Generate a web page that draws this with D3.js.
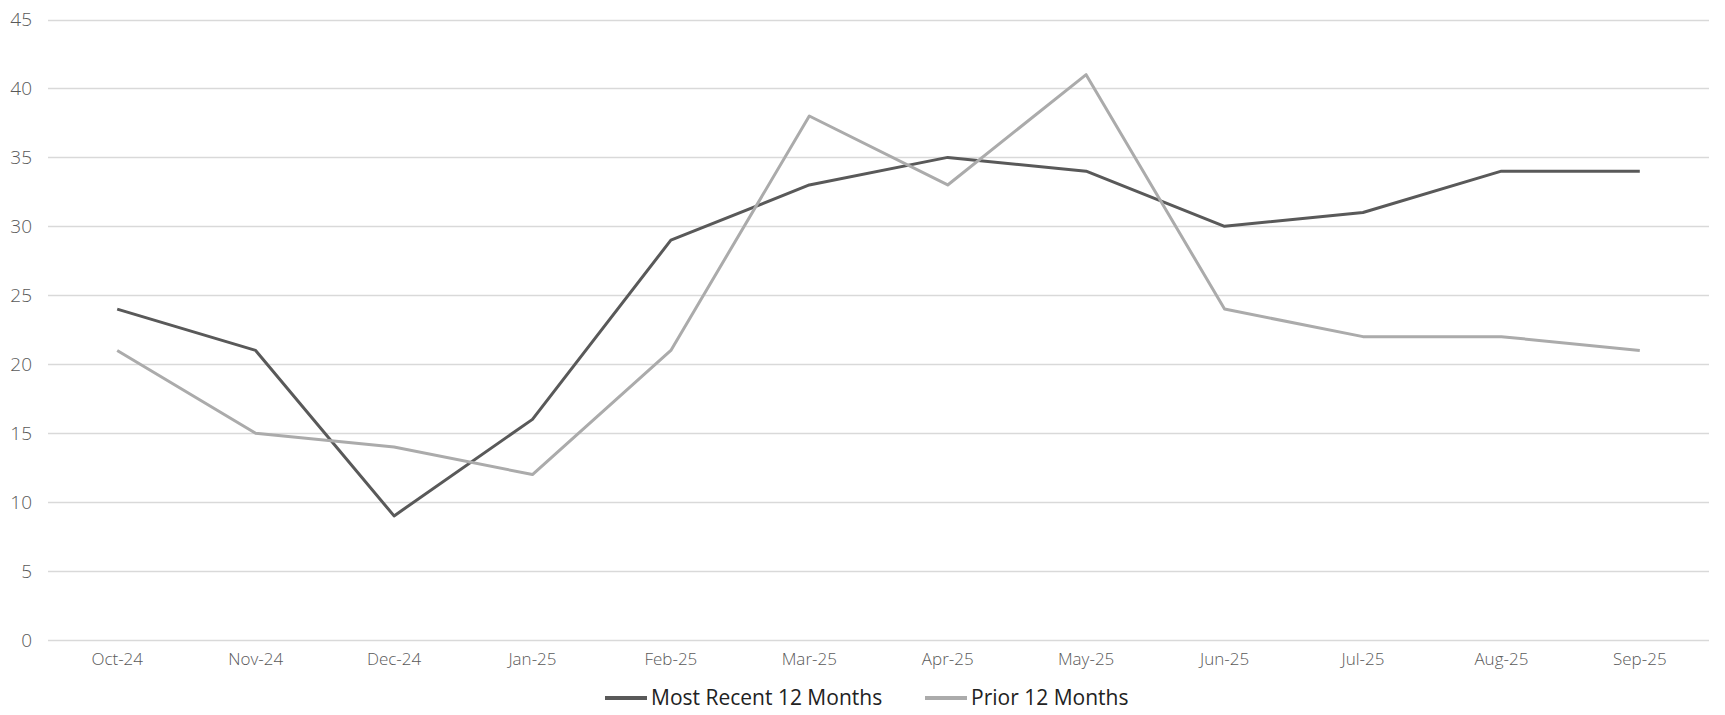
<!DOCTYPE html>
<html><head><meta charset="utf-8">
<script src="https://cdn.jsdelivr.net/npm/d3@7"></script>
<style>body{margin:0;background:#fff;} svg{display:block;}</style>
</head><body>
<svg id="c" width="1725" height="715"></svg>
<script>
const categories = ["Oct-24","Nov-24","Dec-24","Jan-25","Feb-25","Mar-25","Apr-25","May-25","Jun-25","Jul-25","Aug-25","Sep-25"];
const recent = [24,21,9,16,29,33,35,34,30,31,34,34];
const prior = [21,15,14,12,21,38,33,41,24,22,22,21];
const yTicks = [0,5,10,15,20,25,30,35,40,45];
const seriesNames = ["Most Recent 12 Months","Prior 12 Months"];
const colors = ["#595959","#ababab"];

(function(){
const svg = d3.select("#c");
const mLeft = 48, mRight = 1709, mTop = 19.5, mBottom = 640;
const x = d3.scaleBand().domain(categories).range([mLeft, mRight]);
const y = d3.scaleLinear().domain([0,45]).range([mBottom, mTop]);
const font = "'Open Sans', Lato, sans-serif";

svg.append("g").selectAll("line").data(yTicks).join("line")
  .attr("x1", mLeft).attr("x2", mRight)
  .attr("y1", d => Math.round(y(d))+0.5).attr("y2", d => Math.round(y(d))+0.5)
  .attr("stroke", "#d9d9d9").attr("stroke-width", 1.3);

const yAxis = d3.axisLeft(y).tickValues(yTicks).tickSize(0).tickPadding(0);
const ga = svg.append("g").attr("transform", `translate(32,0)`).call(yAxis);
ga.select(".domain").remove();
ga.selectAll("text").attr("font-family", font).attr("font-size", 19).attr("font-weight", 300).attr("fill", "#595959");

const xAxis = d3.axisBottom(x).tickSize(0).tickPadding(0);
const gx = svg.append("g").attr("transform", `translate(0,653)`).call(xAxis);
gx.select(".domain").remove();
gx.selectAll("text").attr("font-family", font).attr("font-size", 17).attr("font-weight", 300).attr("fill", "#595959");

const line = d3.line().x((d,i) => x(categories[i]) + x.bandwidth()/2).y(d => y(d));
[recent, prior].forEach((s, k) => {
  svg.append("path").datum(s).attr("d", line).attr("fill","none")
    .attr("stroke", colors[k]).attr("stroke-width", 3).attr("stroke-linejoin","round");
});

const leg = svg.append("g").attr("transform","translate(605,698)");
const offsets = [0, 320];
seriesNames.forEach((n,k) => {
  const g = leg.append("g").attr("transform", `translate(${offsets[k]},0)`);
  g.append("line").attr("x1",0).attr("x2",42).attr("y1",0).attr("y2",0)
    .attr("stroke", colors[k]).attr("stroke-width",4);
  g.append("text").attr("x",46).attr("y",0).attr("dy","0.35em")
    .attr("font-family", font).attr("font-size", 21).attr("fill","#222").text(n);
});
})();
</script>
</body></html>
